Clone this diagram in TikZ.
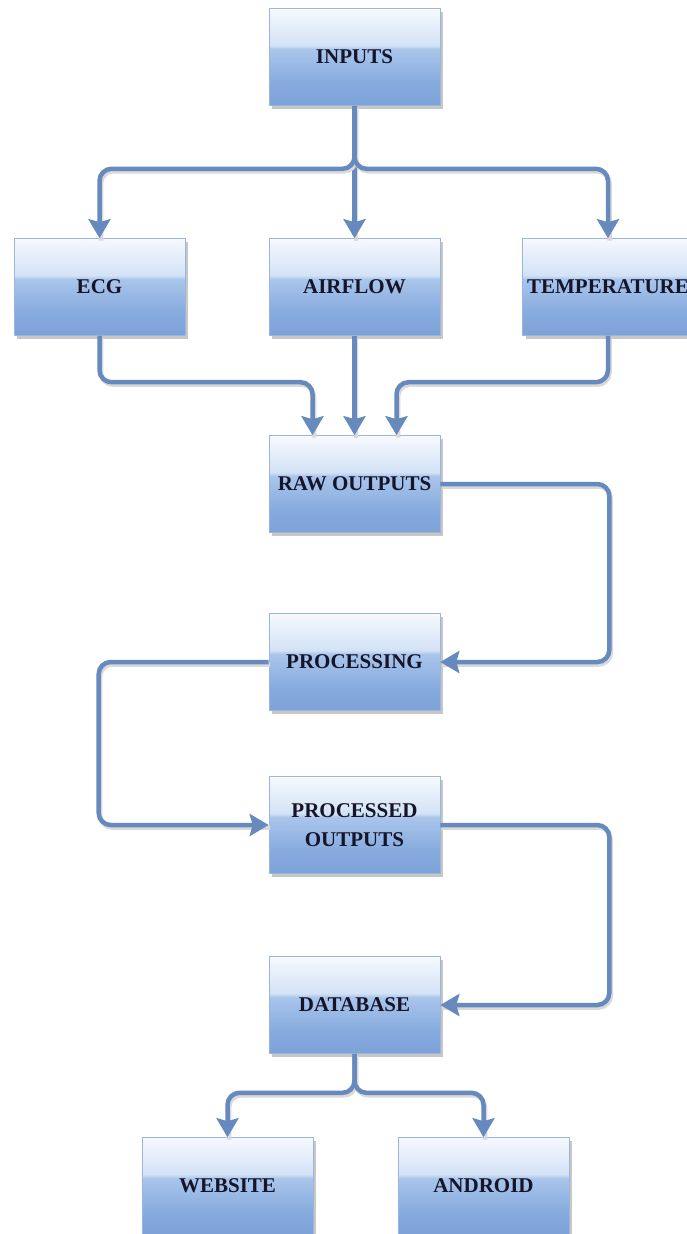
\documentclass[tikz,border=0pt]{standalone}
\usepackage{fontspec}
\setmainfont{Liberation Serif}
\usetikzlibrary{arrows.meta,shadows,calc}
\definecolor{linec}{HTML}{6689BE}
\definecolor{txtc}{HTML}{15152A}
\definecolor{bedge}{HTML}{9AB6DD}
\definecolor{sb0}{HTML}{7DA2D9}
\definecolor{sb1}{HTML}{86AADE}
\definecolor{sb2}{HTML}{A9C5EB}
\definecolor{sb3}{HTML}{D3E2F5}
\definecolor{sb4}{HTML}{F6F9FE}
\pgfdeclareverticalshading{boxshade}{100bp}{color(0bp)=(sb0); color(25bp)=(sb0); color(36bp)=(sb1); color(54bp)=(sb2); color(56bp)=(sb3); color(75bp)=(sb4); color(100bp)=(sb4)}
\tikzset{
  blk/.style={rectangle, minimum width=171pt, minimum height=97pt, inner sep=0pt,
    shading=boxshade, draw=bedge, line width=0.6pt,
    drop shadow={shadow xshift=3pt, shadow yshift=-3pt, fill=black, opacity=0.22},
    text=txtc, font=\fontsize{21}{29}\selectfont\bfseries, align=center},
  conn/.style={draw=linec, line width=4.5pt, rounded corners=12pt,
    -{Stealth[width=22pt,length=19pt,inset=3pt]},
    preaction={draw=black!15, line width=4.5pt, -, transform canvas={shift={(1.5pt,-2.5pt)}}}}
}
\begin{document}
\begin{tikzpicture}[x=1pt,y=-1pt]
\useasboundingbox[fill=white] (0,0) rectangle (687,1234);
\node[blk] (inputs) at (354.5,57) {INPUTS};
\node[blk] (ecg) at (99.5,287) {ECG};
\node[blk] (airflow) at (354.5,287) {AIRFLOW};
\node[blk] (temp) at (608,287) {TEMPERATURE};
\node[blk] (raw) at (354.5,484) {RAW OUTPUTS};
\node[blk] (proc) at (354.5,662) {PROCESSING};
\node[blk] (procd) at (354.5,825) {PROCESSED\\OUTPUTS};
\node[blk] (db) at (354.5,1005) {DATABASE};
\node[blk] (web) at (227.5,1186) {WEBSITE};
\node[blk] (andr) at (483.5,1186) {ANDROID};
\coordinate (rawL) at ($(raw.north)+(-42,0)$);
\coordinate (rawR) at ($(raw.north)+(42,0)$);
\coordinate (jL) at ($(rawL)+(0,-53)$);
\coordinate (jR) at ($(rawR)+(0,-53)$);
% inputs fan-out
\draw[conn] (inputs.south) -- (airflow.north);
\draw[conn] (inputs.south) -- ++(0,63) -| (ecg.north);
\draw[conn] (inputs.south) -- ++(0,63) -| (temp.north);
% into raw outputs
\draw[conn] (airflow.south) -- (raw.north);
\draw[conn] (ecg.south) |- (jL) -- (rawL);
\draw[conn] (temp.south) |- (jR) -- (rawR);
% chain
\draw[conn] (raw.east) -- ++(169,0) |- (proc.east);
\draw[conn] (proc.west) -- ++(-170,0) |- (procd.west);
\draw[conn] (procd.east) -- ++(169,0) |- (db.east);
% database fan-out
\draw[conn] (db.south) -- ++(0,39) -| (web.north);
\draw[conn] (db.south) -- ++(0,39) -| (andr.north);
\end{tikzpicture}
\end{document}
